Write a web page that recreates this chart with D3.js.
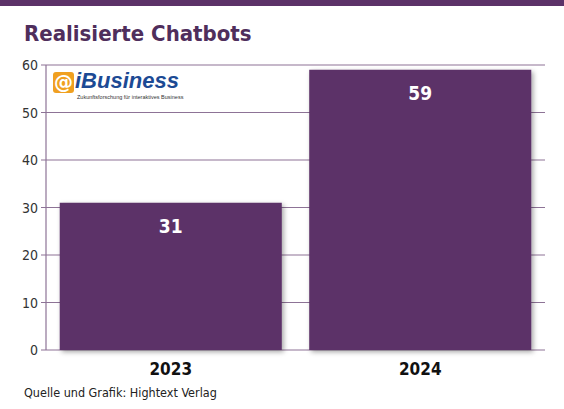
<!DOCTYPE html>
<html><head><meta charset="utf-8">
<script src="https://cdn.jsdelivr.net/npm/d3@7"></script>
<style>body{margin:0;background:#fff}</style></head>
<body><svg id="c" width="564" height="409"></svg>
<script>
const categories = ["2023","2024"];
const values = [31,59];
const yTicks = [0,10,20,30,40,50,60];
const title = "Realisierte Chatbots";
const source = "Quelle und Grafik: Hightext Verlag";

const svg = d3.select("#c");
const purple = "#5c3268", font = "'DejaVu Sans Condensed','Liberation Sans Narrow',sans-serif";
svg.append("rect").attr("x",0).attr("y",0).attr("width",564).attr("height",6).attr("fill",purple);
svg.append("text").attr("x",24).attr("y",41).attr("fill","#4f2e5c").attr("font-family",font)
  .attr("font-weight","bold").attr("font-size",22).text(title);

const y = d3.scaleLinear().domain([0,60]).range([350,65]);
const x = d3.scaleBand().domain(categories).range([46,545]).paddingInner(0.11).paddingOuter(0.055);

const defs = svg.append("defs");
const f = defs.append("filter").attr("id","sh").attr("x","-10%").attr("y","-10%").attr("width","130%").attr("height","130%");
f.append("feDropShadow").attr("dx",2).attr("dy",2).attr("stdDeviation",2.5).attr("flood-color","#000").attr("flood-opacity",0.35);

const grid = svg.append("g");
yTicks.forEach(t=>{
  grid.append("line").attr("x1",41).attr("x2",545).attr("y1",y(t)).attr("y2",y(t)).attr("stroke","#8d7396").attr("stroke-width",1.2);
  grid.append("text").attr("x",38).attr("y",y(t)+5).attr("text-anchor","end").attr("font-family",font).attr("font-size",14).attr("fill","#333").text(t);
});
svg.append("line").attr("x1",46).attr("x2",46).attr("y1",65).attr("y2",350).attr("stroke","#8d7396").attr("stroke-width",1.2);

// logo
const lg = svg.append("g");
lg.append("rect").attr("x",53).attr("y",72).attr("width",21).attr("height",21).attr("rx",3).attr("fill","#f0a020");
lg.append("text").attr("x",63.5).attr("y",89).attr("text-anchor","middle").attr("font-family","DejaVu Sans").attr("font-weight","bold").attr("font-size",19).attr("fill","#fff").text("@");
lg.append("text").attr("x",75).attr("y",88).attr("font-family","'Liberation Sans',Arial").attr("font-style","italic").attr("font-weight","bold").attr("font-size",22).attr("fill","#1c4a94").text("iBusiness");
lg.append("text").attr("x",77).attr("y",99).attr("font-family","'Liberation Sans',Arial").attr("font-size",5.5).attr("fill","#333").text("Zukunftsforschung für interaktives Business");

const bars = svg.append("g");
categories.forEach((c,i)=>{
  bars.append("rect").attr("x",x(c)).attr("y",y(values[i])).attr("width",x.bandwidth()).attr("height",y(0)-y(values[i]))
    .attr("fill","#5c3268").attr("filter","url(#sh)");
  bars.append("text").attr("x",x(c)+x.bandwidth()/2).attr("y",y(values[i])+30).attr("text-anchor","middle")
    .attr("font-family",font).attr("font-weight","bold").attr("font-size",19).attr("fill","#fff").text(values[i]);
  bars.append("text").attr("x",x(c)+x.bandwidth()/2).attr("y",375).attr("text-anchor","middle")
    .attr("font-family",font).attr("font-weight","bold").attr("font-size",17).attr("fill","#111").text(c);
});
svg.append("text").attr("x",24).attr("y",397).attr("font-family",font).attr("font-size",12.5).attr("fill","#222").text(source);
</script></body></html>
